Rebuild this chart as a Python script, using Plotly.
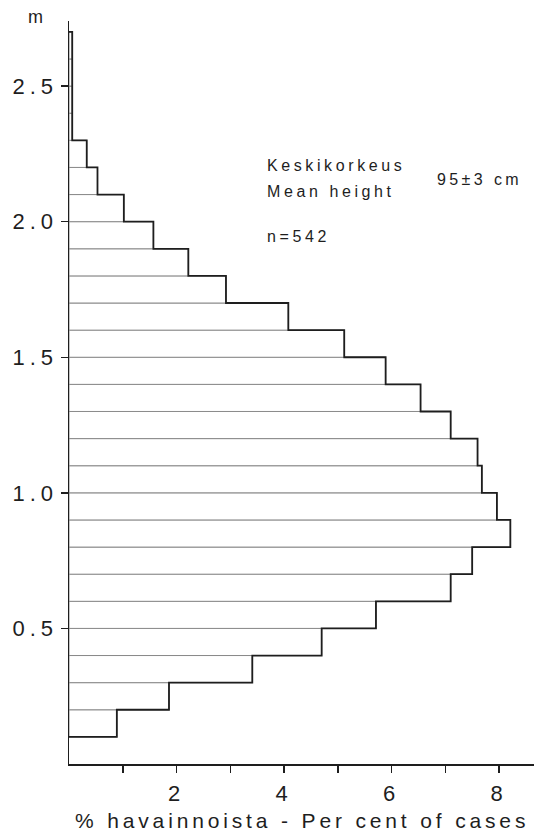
import plotly.graph_objects as go

# ---- data ----
bin_edges_m = [0.1, 0.2, 0.3, 0.4, 0.5, 0.6, 0.7, 0.8, 0.9, 1.0, 1.1, 1.2, 1.3, 1.4,
               1.5, 1.6, 1.7, 1.8, 1.9, 2.0, 2.1, 2.2, 2.3, 2.4, 2.5, 2.6, 2.7]
percent_of_cases = [0.89, 1.86, 3.41, 4.70, 5.71, 7.10, 7.50, 8.21, 7.96, 7.68, 7.60,
                    7.10, 6.54, 5.89, 5.12, 4.08, 2.92, 2.22, 1.57, 1.02, 0.53, 0.33,
                    0.06, 0.06, 0.06, 0.06]
y_tick_vals = [0.5, 1.0, 1.5, 2.0, 2.5]
y_tick_text = ["0.5", "1.0", "1.5", "2.0", "2.5"]
x_tick_vals = [1, 2, 3, 4, 5, 6, 7, 8]
x_tick_text = ["", "2", "", "4", "", "6", "", "8"]

FONT = "Liberation Sans, Arial, sans-serif"
INK = "#1e1e1e"


def spaced(s, ls):
    return f'<span style="letter-spacing:{ls}px">{s}</span>' if s else s


lows = bin_edges_m[:-1]
highs = bin_edges_m[1:]
centers = [(a + b) / 2 for a, b in zip(lows, highs)]
widths = [b - a for a, b in zip(lows, highs)]

# staircase outline built from the data
step_x = [0]
step_y = [lows[0]]
for v, lo, hi in zip(percent_of_cases, lows, highs):
    step_x += [v, v]
    step_y += [lo, hi]
step_x.append(0)
step_y.append(highs[-1])

fig = go.Figure()
fig.add_trace(go.Bar(
    y=centers, x=percent_of_cases, width=widths, orientation="h", base=0,
    marker=dict(color="white", line=dict(color="#8a8a8a", width=1)),
    hoverinfo="skip", showlegend=False,
))
fig.add_trace(go.Scatter(
    x=step_x, y=step_y, mode="lines",
    line=dict(color=INK, width=1.8),
    hoverinfo="skip", showlegend=False,
))

fig.update_layout(
    width=534, height=835,
    margin=dict(l=69, r=0, t=21, b=71),
    paper_bgcolor="white", plot_bgcolor="white",
    font=dict(family=FONT, color=INK),
    bargap=0,
    xaxis=dict(
        range=[0, 8.65], showgrid=False, zeroline=False,
        showline=True, linecolor=INK, linewidth=1.5,
        ticks="outside", ticklen=7, tickwidth=1.5, tickcolor=INK,
        tickmode="array", tickvals=x_tick_vals,
        ticktext=[spaced(t, 5) for t in x_tick_text],
        tickfont=dict(size=22, family=FONT, color=INK),
        ticklabelstandoff=2,
        automargin=False,
    ),
    yaxis=dict(
        range=[0, 2.74], showgrid=False, zeroline=False,
        showline=True, linecolor=INK, linewidth=1.5,
        ticks="outside", ticklen=7, tickwidth=1.5, tickcolor=INK,
        tickmode="array", tickvals=y_tick_vals,
        ticktext=[spaced(t, 5) for t in y_tick_text],
        tickfont=dict(size=22, family=FONT, color=INK),
        ticklabelstandoff=-2,
        automargin=False,
    ),
)

ann_font = dict(size=16, family=FONT, color=INK)
fig.add_annotation(text=spaced("Keskikorkeus", 3.6), xref="paper", yref="paper",
                   x=0.4215, y=0.806, xanchor="left", yanchor="middle",
                   showarrow=False, font=ann_font)
fig.add_annotation(text=spaced("Mean height", 3.6), xref="paper", yref="paper",
                   x=0.4215, y=0.770, xanchor="left", yanchor="middle",
                   showarrow=False, font=ann_font)
fig.add_annotation(text=spaced("n=542", 3.6), xref="paper", yref="paper",
                   x=0.4215, y=0.710, xanchor="left", yanchor="middle",
                   showarrow=False, font=ann_font)
fig.add_annotation(text=spaced("95±3 cm", 3.4), xref="paper", yref="paper",
                   x=0.787, y=0.787, xanchor="left", yanchor="middle",
                   showarrow=False, font=ann_font)
fig.add_annotation(text="m", xref="paper", yref="paper",
                   x=-0.073, y=1.006, xanchor="center", yanchor="middle",
                   showarrow=False, font=dict(size=18, family=FONT, color=INK))
fig.add_annotation(text=spaced("% havainnoista - Per cent of cases", 3.85),
                   xref="paper", yref="paper",
                   x=0.501, y=-0.076, xanchor="center", yanchor="middle",
                   showarrow=False, font=dict(size=21, family=FONT, color=INK))

fig.write_html(
    "out.html",
    config={"displayModeBar": False, "staticPlot": True},
    post_script="document.body.style.margin='0';document.body.style.overflow='hidden';",
)
